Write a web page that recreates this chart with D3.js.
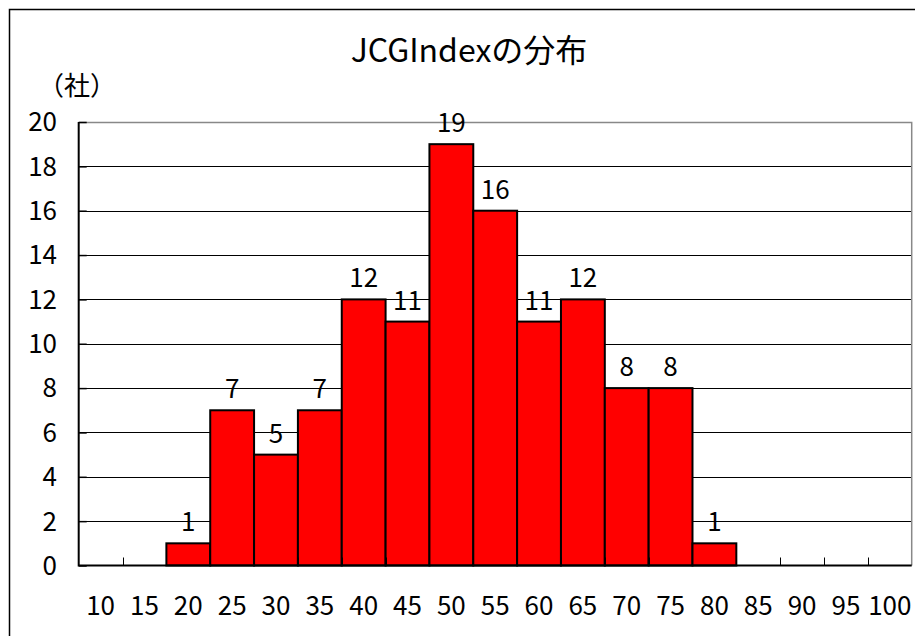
<!DOCTYPE html>
<html>
<head>
<meta charset="utf-8">
<script src="https://cdn.jsdelivr.net/npm/d3@7"></script>
<style>
  html, body { margin: 0; padding: 0; background: #fff; }
  svg { display: block; }
  text { font-family: "Noto Sans CJK JP", "Liberation Sans", sans-serif; fill: #000; }
</style>
</head>
<body>
<div id="chart"></div>
<script>
// categories (score bins) and company counts
const bins = ['10', '15', '20', '25', '30', '35', '40', '45', '50', '55',
  '60', '65', '70', '75', '80', '85', '90', '95', '100'];
const counts = [0, 0, 1, 7, 5, 7, 12, 11, 19, 16, 11, 12, 8, 8, 1, 0, 0, 0, 0];
const yTicks = [0, 2, 4, 6, 8, 10, 12, 14, 16, 18, 20];

const W = 915, H = 636;
const margin = { left: 78.7, right: 3.3, top: 122, bottom: 70.5 };
const NUM_FONT = '26px';

const svg = d3.select('#chart').append('svg')
  .attr('width', W).attr('height', H);

// outer chart frame
svg.append('rect')
  .attr('x', 9.5).attr('y', 9.5)
  .attr('width', W).attr('height', H)
  .attr('fill', 'none').attr('stroke', '#000').attr('stroke-width', 1.5);

const x = d3.scaleBand()
  .domain(bins)
  .range([margin.left, W - margin.right])
  .padding(0);

const y = d3.scaleLinear()
  .domain([0, 20])
  .range([H - margin.bottom, margin.top]);

// title + unit label
svg.append('text')
  .attr('x', 469).attr('y', 62)
  .attr('text-anchor', 'middle')
  .style('font-size', '32px')
  .text('JCGIndexの分布');

svg.append('text')
  .attr('x', 77).attr('y', 95)
  .attr('text-anchor', 'middle')
  .style('font-size', '26px')
  .text('（社）');

// horizontal gridlines
svg.append('g')
  .selectAll('line')
  .data(yTicks.filter((d) => d > 0 && d < 20))
  .join('line')
  .attr('x1', margin.left).attr('x2', W - margin.right)
  .attr('y1', (d) => Math.round(y(d)) + 0.5)
  .attr('y2', (d) => Math.round(y(d)) + 0.5)
  .attr('stroke', '#000').attr('stroke-width', 1);

// plot area top / right border (grey)
svg.append('path')
  .attr('d', `M${margin.left},${margin.top + 0.5}H${W - margin.right}V${H - margin.bottom}`)
  .attr('fill', 'none').attr('stroke', '#888').attr('stroke-width', 1.5);

const barData = counts.map((v, i) => ({ bin: bins[i], v })).filter((d) => d.v > 0);

// bars
svg.append('g')
  .selectAll('rect')
  .data(barData)
  .join('rect')
  .attr('x', (d) => x(d.bin))
  .attr('y', (d) => y(d.v))
  .attr('width', x.bandwidth())
  .attr('height', (d) => y(0) - y(d.v))
  .attr('fill', '#ff0000')
  .attr('stroke', '#000').attr('stroke-width', 2);

// value labels
svg.append('g')
  .selectAll('text')
  .data(barData)
  .join('text')
  .attr('x', (d) => x(d.bin) + x.bandwidth() / 2)
  .attr('y', (d) => y(d.v) - 12)
  .attr('text-anchor', 'middle')
  .style('font-size', NUM_FONT)
  .text((d) => d.v);

// y axis: ticks point inward
const yAxis = svg.append('g')
  .attr('transform', `translate(${margin.left},0)`)
  .call(d3.axisRight(y).tickValues(yTicks).tickSize(8).tickFormat(''));
yAxis.select('.domain').remove();
yAxis.selectAll('line').attr('stroke', '#000').attr('stroke-width', 1.5);

svg.append('g')
  .selectAll('text')
  .data(yTicks)
  .join('text')
  .attr('x', 57).attr('y', (d) => y(d))
  .attr('dy', '0.36em')
  .attr('text-anchor', 'end')
  .style('font-size', NUM_FONT)
  .text((d) => d);

// x axis: ticks between categories, pointing up
svg.append('g')
  .selectAll('line')
  .data(bins.slice(1))
  .join('line')
  .attr('x1', (d) => Math.round(x(d)) + 0.5)
  .attr('x2', (d) => Math.round(x(d)) + 0.5)
  .attr('y1', y(0)).attr('y2', y(0) - 8)
  .attr('stroke', '#000').attr('stroke-width', 1);

svg.append('g')
  .selectAll('text')
  .data(bins)
  .join('text')
  .attr('x', (d) => x(d) + x.bandwidth() / 2)
  .attr('y', 606)
  .attr('dy', '0.36em')
  .attr('text-anchor', 'middle')
  .style('font-size', NUM_FONT)
  .text((d) => d);

// axis lines
svg.append('path')
  .attr('d', `M${margin.left},${margin.top}V${y(0)}H${W - margin.right}`)
  .attr('fill', 'none').attr('stroke', '#000').attr('stroke-width', 2);
</script>
</body>
</html>
